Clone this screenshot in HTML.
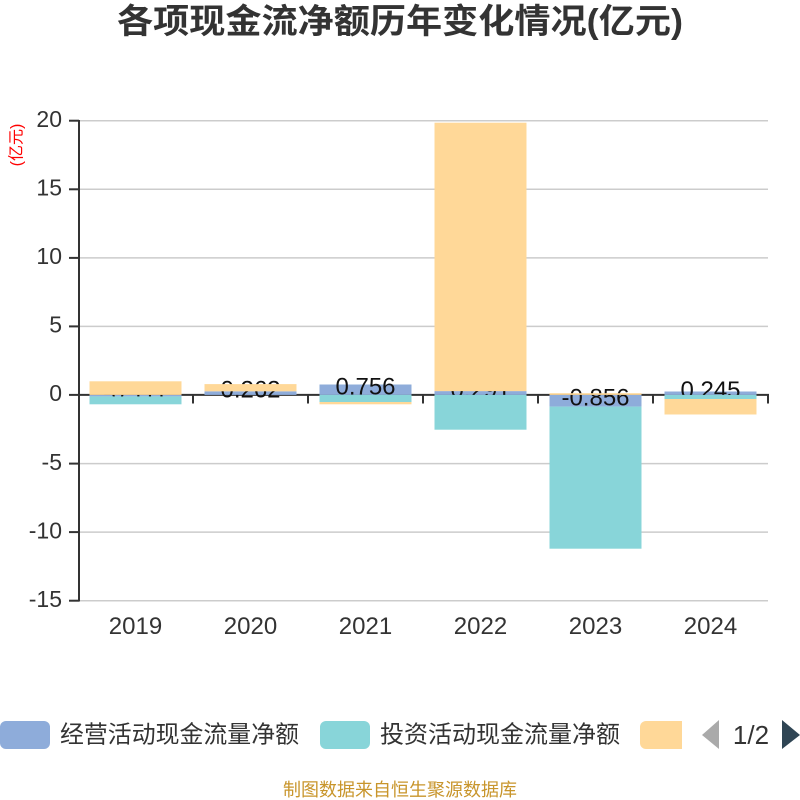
<!DOCTYPE html>
<html><head><meta charset="utf-8"><style>
html,body{margin:0;padding:0;background:#fff;}
svg{display:block;}
text{font-family:"Liberation Sans","Noto Sans CJK SC",sans-serif;}
</style></head><body>
<svg width="800" height="800" viewBox="0 0 800 800" xmlns="http://www.w3.org/2000/svg">
<rect width="800" height="800" fill="#fff"/>
<!-- title -->
<text x="400" y="22" text-anchor="middle" dominant-baseline="central" font-size="34" font-weight="bold" fill="#333" textLength="566" lengthAdjust="spacingAndGlyphs">各项现金流净额历年变化情况(亿元)</text>
<!-- unit -->
<text transform="translate(17,145) rotate(-90)" text-anchor="middle" dominant-baseline="central" font-size="16" fill="#ff0000">(亿元)</text>
<!-- grid -->
<g stroke="#cccccc" stroke-width="1.5">
<line x1="79" y1="120.7" x2="768" y2="120.7"/>
<line x1="79" y1="189.3" x2="768" y2="189.3"/>
<line x1="79" y1="257.9" x2="768" y2="257.9"/>
<line x1="79" y1="326.4" x2="768" y2="326.4"/>
<line x1="79" y1="463.6" x2="768" y2="463.6"/>
<line x1="79" y1="532.1" x2="768" y2="532.1"/>
<line x1="79" y1="600.7" x2="768" y2="600.7"/>
</g>
<!-- y axis -->
<g stroke="#333" stroke-width="2">
<line x1="79" y1="120" x2="79" y2="601.5"/>
<line x1="69" y1="120.7" x2="79" y2="120.7"/>
<line x1="69" y1="189.3" x2="79" y2="189.3"/>
<line x1="69" y1="257.9" x2="79" y2="257.9"/>
<line x1="69" y1="326.4" x2="79" y2="326.4"/>
<line x1="69" y1="394.9" x2="79" y2="394.9"/>
<line x1="69" y1="463.6" x2="79" y2="463.6"/>
<line x1="69" y1="532.1" x2="79" y2="532.1"/>
<line x1="69" y1="600.7" x2="79" y2="600.7"/>
<!-- x axis at zero -->
<line x1="78" y1="394.9" x2="769" y2="394.9"/>
<line x1="193" y1="394.9" x2="193" y2="403.5"/>
<line x1="308" y1="394.9" x2="308" y2="403.5"/>
<line x1="423" y1="394.9" x2="423" y2="403.5"/>
<line x1="538" y1="394.9" x2="538" y2="403.5"/>
<line x1="653" y1="394.9" x2="653" y2="403.5"/>
<line x1="768" y1="394.9" x2="768" y2="403.5"/>
</g>
<g font-size="23" fill="#333" text-anchor="end">
<text x="62" y="127">20</text>
<text x="62" y="195.6">15</text>
<text x="62" y="264.2">10</text>
<text x="62" y="332.7">5</text>
<text x="62" y="401.2">0</text>
<text x="62" y="469.9">-5</text>
<text x="62" y="538.4">-10</text>
<text x="62" y="607">-15</text>
</g>
<g font-size="24" fill="#333" text-anchor="middle">
<text x="135.5" y="634">2019</text>
<text x="250.5" y="634">2020</text>
<text x="365.5" y="634">2021</text>
<text x="480.5" y="634">2022</text>
<text x="595.5" y="634">2023</text>
<text x="710.5" y="634">2024</text>
</g>
<!-- blue bars -->
<g fill="#8eacda">
<rect x="89.5" y="394.9" width="92" height="1.5"/>
<rect x="204.5" y="391.3" width="92" height="3.6"/>
<rect x="319.5" y="384.5" width="92" height="10.4"/>
<rect x="434.5" y="391.1" width="92" height="3.8"/>
<rect x="549.5" y="394.9" width="92" height="11.7"/>
<rect x="664.5" y="391.5" width="92" height="3.4"/>
</g>
<!-- labels -->
<g font-size="24" fill="#111" text-anchor="middle">
<text x="135.5" y="400.4">-0.111</text>
<text x="250.5" y="397.7">0.262</text>
<text x="365.5" y="394.3">0.756</text>
<text x="480.5" y="397.6">0.291</text>
<text x="595.5" y="405.3">-0.856</text>
<text x="710.5" y="397.8">0.245</text>
</g>
<!-- teal bars -->
<g fill="#88d5d9">
<rect x="89.5" y="396.4" width="92" height="7.9"/>
<rect x="319.5" y="394.9" width="92" height="7.1"/>
<rect x="434.5" y="394.9" width="92" height="34.8"/>
<rect x="549.5" y="406.6" width="92" height="142.1"/>
<rect x="664.5" y="394.9" width="92" height="4.1"/>
</g>
<!-- orange bars -->
<g fill="#ffd898">
<rect x="89.5" y="381.3" width="92" height="13.6"/>
<rect x="204.5" y="384.1" width="92" height="7.2"/>
<rect x="319.5" y="402" width="92" height="2.3"/>
<rect x="434.5" y="122.7" width="92" height="268.4"/>
<rect x="549.5" y="393.2" width="92" height="1.7"/>
<rect x="664.5" y="399" width="92" height="15.5"/>
</g>
<!-- legend -->
<rect x="0" y="721" width="50" height="28" rx="6" fill="#8eacda"/>
<text x="60" y="735" dominant-baseline="central" font-size="24" fill="#333" textLength="239" lengthAdjust="spacingAndGlyphs">经营活动现金流量净额</text>
<rect x="320" y="721" width="50" height="28" rx="6" fill="#88d5d9"/>
<text x="380" y="735" dominant-baseline="central" font-size="24" fill="#333" textLength="240" lengthAdjust="spacingAndGlyphs">投资活动现金流量净额</text>
<clipPath id="cl"><rect x="640" y="715" width="42" height="40"/></clipPath>
<rect x="640" y="721" width="50" height="28" rx="6" fill="#ffd898" clip-path="url(#cl)"/>
<polygon points="702,735 719,720 719,749" fill="#aaaaaa"/>
<text x="751" y="744" text-anchor="middle" font-size="26" fill="#333">1/2</text>
<polygon points="782,720 782,749 800,735" fill="#2f4554"/>
<!-- footer -->
<text x="400" y="790" text-anchor="middle" dominant-baseline="central" font-size="18" fill="#c8952b">制图数据来自恒生聚源数据库</text>
</svg>
</body></html>
